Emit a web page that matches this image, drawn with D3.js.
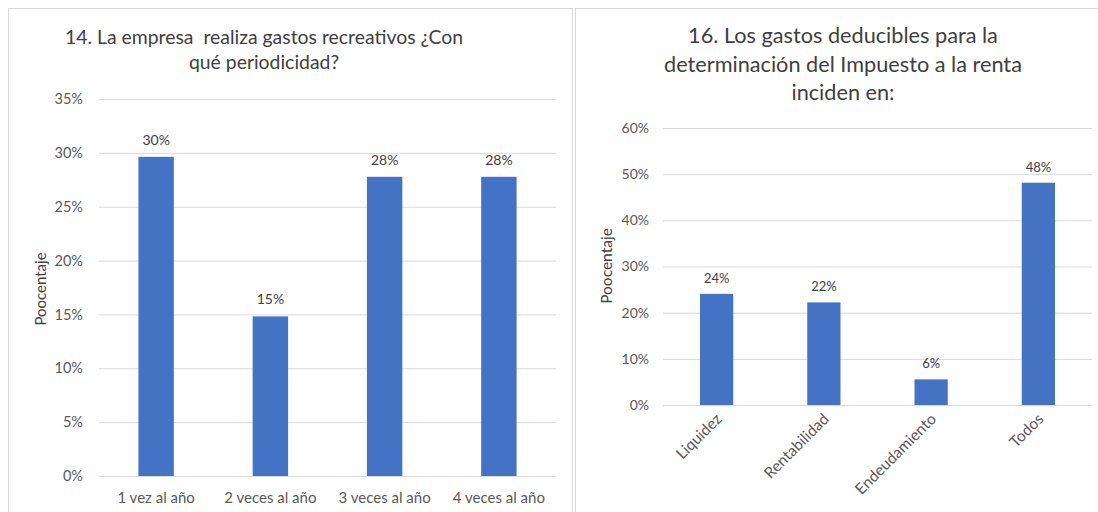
<!DOCTYPE html>
<html>
<head>
<meta charset="utf-8">
<script src="https://cdn.jsdelivr.net/npm/d3@7"></script>
<style>
  html, body { margin: 0; padding: 0; background: #fff; }
  svg { display: block; font-family: Lato, "Open Sans", sans-serif; }
</style>
</head>
<body>
<svg id="chart" width="1098" height="512"></svg>
<script>
// Survey results: frequency of recreational expenses
const freqCategories = ["1 vez al año", "2 veces al año", "3 veces al año", "4 veces al año"];
const freqValues = [16 / 54, 8 / 54, 15 / 54, 15 / 54];
const freqTicks = [0, 0.05, 0.10, 0.15, 0.20, 0.25, 0.30, 0.35];
const freqTitle = ["14. La empresa  realiza gastos recreativos ¿Con", "qué periodicidad?"];

// Survey results: where deductible expenses have an impact
const impactCategories = ["Liquidez", "Rentabilidad", "Endeudamiento", "Todos"];
const impactValues = [13 / 54, 12 / 54, 3 / 54, 26 / 54];
const impactTicks = [0, 0.10, 0.20, 0.30, 0.40, 0.50, 0.60];
const impactTitle = ["16. Los gastos deducibles para la", "determinación del Impuesto a la renta", "inciden en:"];

const yTitle = "Poocentaje";

const BAR = "#4472c4", GRID = "#d9d9d9", TEXT = "#595959", TITLE = "#404040", FRAME = "#d9d9d9";
const pct = d3.format(".0%");

const svg = d3.select("#chart");

// chart frames
svg.append("rect").attr("x", 8.5).attr("y", 8.5).attr("width", 564).attr("height", 520)
  .attr("fill", "none").attr("stroke", FRAME);
svg.append("rect").attr("x", 575.5).attr("y", 8.5).attr("width", 540).attr("height", 520)
  .attr("fill", "none").attr("stroke", FRAME);

function drawChart(opt) {
  const g = svg.append("g");
  const x = d3.scaleBand().domain(opt.categories).range([opt.x0, opt.x1]).paddingInner(0.69).paddingOuter(0.345);
  const y = d3.scaleLinear().domain([0, opt.max]).range([opt.y0, opt.y1]);

  // title
  const t = g.append("text").attr("text-anchor", "middle").attr("fill", TITLE)
    .attr("font-size", opt.titleSize).attr("xml:space", "preserve");
  opt.title.forEach((line, i) => {
    t.append("tspan").attr("x", opt.titleX).attr("y", opt.titleY + i * opt.titleStep).text(line);
  });

  // horizontal gridlines and y labels
  const yAxis = d3.axisLeft(y).tickValues(opt.ticks).tickFormat(pct)
    .tickSize(-(opt.x1 - opt.x0)).tickPadding(opt.tickPad);
  const ya = g.append("g").attr("transform", `translate(${opt.x0},0)`).call(yAxis);
  ya.select(".domain").remove();
  ya.selectAll(".tick line").attr("stroke", GRID).attr("stroke-width", 1);
  ya.selectAll(".tick text").attr("fill", TEXT).attr("font-size", opt.tickSize)
    .attr("font-family", "Lato, sans-serif");

  // bars
  g.selectAll("rect.bar").data(opt.values).join("rect").attr("class", "bar")
    .attr("x", (d, i) => x(opt.categories[i]))
    .attr("width", x.bandwidth())
    .attr("y", d => y(d))
    .attr("height", d => y(0) - y(d))
    .attr("fill", BAR);

  // value labels
  g.selectAll("text.val").data(opt.values).join("text").attr("class", "val")
    .attr("x", (d, i) => x(opt.categories[i]) + x.bandwidth() / 2)
    .attr("y", d => y(d) - opt.valGap)
    .attr("text-anchor", "middle").attr("fill", TITLE).attr("font-size", opt.valSize)
    .text(d => pct(d));

  // category axis
  const xAxis = d3.axisBottom(x).tickSize(0).tickPadding(opt.xPad);
  const xa = g.append("g").attr("transform", `translate(0,${opt.y0})`).call(xAxis);
  xa.select(".domain").remove();
  xa.selectAll(".tick text").attr("fill", TEXT).attr("font-size", opt.xSize)
    .attr("font-family", "Lato, sans-serif");
  if (opt.rotate) {
    xa.selectAll(".tick text")
      .attr("text-anchor", "end").attr("dy", 0).attr("y", 0)
      .attr("transform", `translate(${opt.rotDx},${opt.rotDy}) rotate(-45)`);
  }

  // y axis title
  g.append("text").attr("transform", `translate(${opt.yTitleX},${opt.yTitleY}) rotate(-90)`)
    .attr("text-anchor", "middle").attr("fill", TITLE).attr("font-size", opt.yTitleSize)
    .text(yTitle);
}

drawChart({
  categories: freqCategories, values: freqValues, ticks: freqTicks, max: 0.35,
  x0: 99, x1: 556, y0: 476, y1: 99,
  title: freqTitle, titleX: 264, titleY: 44, titleStep: 25, titleSize: 19.4,
  tickPad: 16, tickSize: 14.5, valSize: 14, valGap: 12, xPad: 16, xSize: 15,
  yTitleX: 46, yTitleY: 289, yTitleSize: 15
});

drawChart({
  categories: impactCategories, values: impactValues, ticks: impactTicks, max: 0.60,
  x0: 663, x1: 1092, y0: 405, y1: 128,
  title: impactTitle, titleX: 843, titleY: 43, titleStep: 28.5, titleSize: 21.7,
  tickPad: 14, tickSize: 14, valSize: 13, valGap: 11, xPad: 0, xSize: 15.5,
  rotate: true, rotDx: 6, rotDy: 15,
  yTitleX: 612, yTitleY: 266, yTitleSize: 15.5
});
</script>
</body>
</html>
